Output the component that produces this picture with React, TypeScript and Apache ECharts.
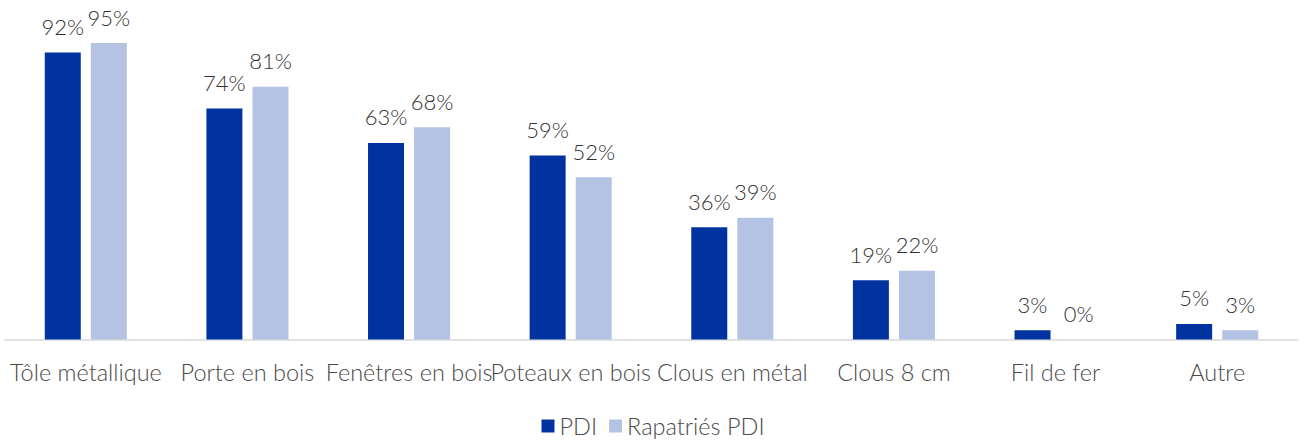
import React, { useEffect, useRef } from "react";
import * as echarts from "echarts";

const categories = [
  "Tôle métallique",
  "Porte en bois",
  "Fenêtres en bois",
  "Poteaux en bois",
  "Clous en métal",
  "Clous 8 cm",
  "Fil de fer",
  "Autre",
];
const seriesNames = ["PDI", "Rapatriés PDI"];
const pdiValues = [92, 74, 63, 59, 36, 19, 3, 5];
const rapatriesValues = [95, 81, 68, 52, 39, 22, 0, 3];

const FONT = "Lato";

export default function App() {
  const ref = useRef<HTMLDivElement>(null);
  useEffect(() => {
    if (!ref.current) return;
    const chart = echarts.init(ref.current, undefined, { renderer: "svg" });
    const label = {
      show: true,
      position: "top" as const,
      distance: 15,
      formatter: "{c}%",
      color: "#333333",
      fontSize: 22,
      fontWeight: 300,
      fontFamily: FONT,
    };
    chart.setOption({
      animation: false,
      grid: { left: 5, right: 8, top: 27.5, bottom: 100.5, containLabel: false },
      legend: {
        data: seriesNames,
        bottom: -3,
        left: "center",
        icon: "rect",
        itemWidth: 13,
        itemHeight: 13,
        itemGap: 12,
        textStyle: { color: "#4a4a4a", fontSize: 23.5, fontWeight: 300, fontFamily: FONT },
      },
      xAxis: {
        type: "category",
        data: categories,
        axisLine: { lineStyle: { color: "#d9d9d9", width: 1.5 } },
        axisTick: { show: false },
        axisLabel: {
          interval: 0,
          margin: 20,
          color: "#4a4a4a",
          fontSize: 23.5,
          fontWeight: 300,
          fontFamily: FONT,
        },
      },
      yAxis: {
        type: "value",
        min: 0,
        max: 100,
        show: false,
        splitLine: { show: false },
      },
      series: [
        {
          name: seriesNames[0],
          type: "bar",
          data: pdiValues,
          barWidth: 36,
          barGap: "28%",
          itemStyle: { color: "#0033A0" },
          label,
        },
        {
          name: seriesNames[1],
          type: "bar",
          data: rapatriesValues,
          barWidth: 36,
          itemStyle: { color: "#B4C3E3" },
          label,
        },
      ],
    });
    return () => chart.dispose();
  }, []);
  return <div ref={ref} style={{ width: 1306, height: 440, position: "absolute", left: 0, top: 0 }} />;
}
